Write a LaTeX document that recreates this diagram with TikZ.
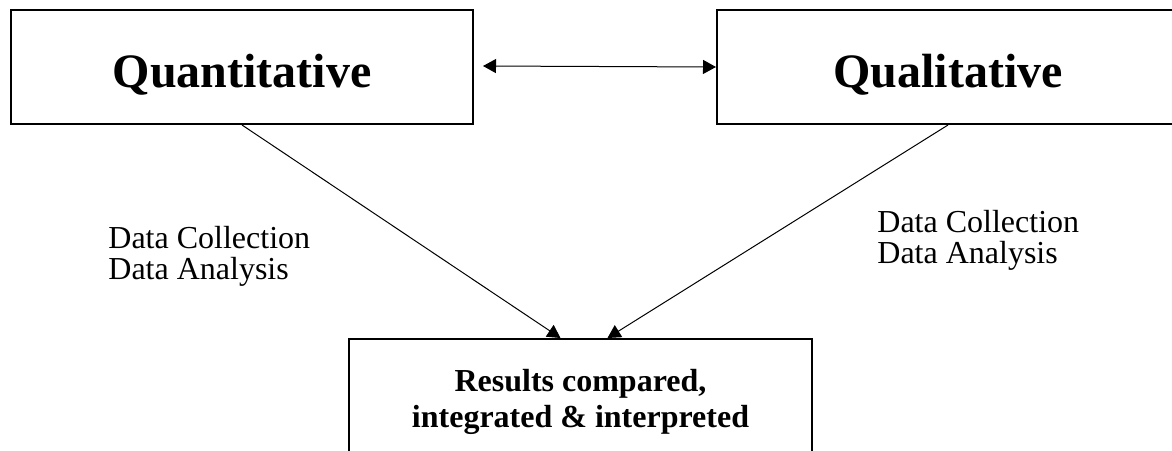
\documentclass[tikz,border=0pt]{standalone}
\usepackage{fontspec}
\setmainfont{Liberation Serif}
\usetikzlibrary{positioning, calc, arrows.meta}

\begin{document}
\begin{tikzpicture}[x=0.5pt, y=-0.5pt,
    concept/.style={draw,
      line width=1pt,
      minimum width=231pt,
      minimum height=57pt,
      text height=20pt,
      text depth=0pt,
      font=\fontsize{24}{28}\selectfont\bfseries},
    outcome/.style={draw,
      line width=1pt,
      minimum width=231.5pt,
      minimum height=62.5pt,
      align=center,
      font=\fontsize{16}{18}\selectfont\bfseries},
    stage/.style={align=left,
      inner sep=0pt,
      font=\fontsize{16}{15.5}\selectfont},
    link/.style={line width=0.5pt,
      -{Triangle[length=6.5pt, width=7pt]}}]

  \useasboundingbox (0,0) rectangle (1172,450);
  \clip (0,0) rectangle (1172,450);

  % APPROACHES

  \node[concept, anchor=north west] (quant) at (10,9) {Quantitative};

  \node[concept, right=121pt of quant] (qual) {Qualitative};

  % RESULTS

  \node[outcome, anchor=north west] (results) at (348,338) {
    Results compared,\\
    integrated \& interpreted
  };

  % STAGES

  \node[stage, anchor=base west] (quantstage) at (108,279) {
    Data Collection\\
    Data Analysis
  };

  \node[stage, anchor=base west] (qualstage) at (877,263) {
    Data Collection\\
    Data Analysis
  };

  % LINKS

  \coordinate (gapstart) at (483,66);
  \draw[line width=0.5pt, {Triangle[length=6.5pt, width=7pt]}-{Triangle[length=6.5pt, width=7pt]}]
    (gapstart) -- (qual.west);

  \draw[link] (quant.south) -- ([xshift=-10pt]results.north);
  \draw[link] (qual.south) -- ([xshift=13.5pt]results.north);

\end{tikzpicture}
\end{document}
